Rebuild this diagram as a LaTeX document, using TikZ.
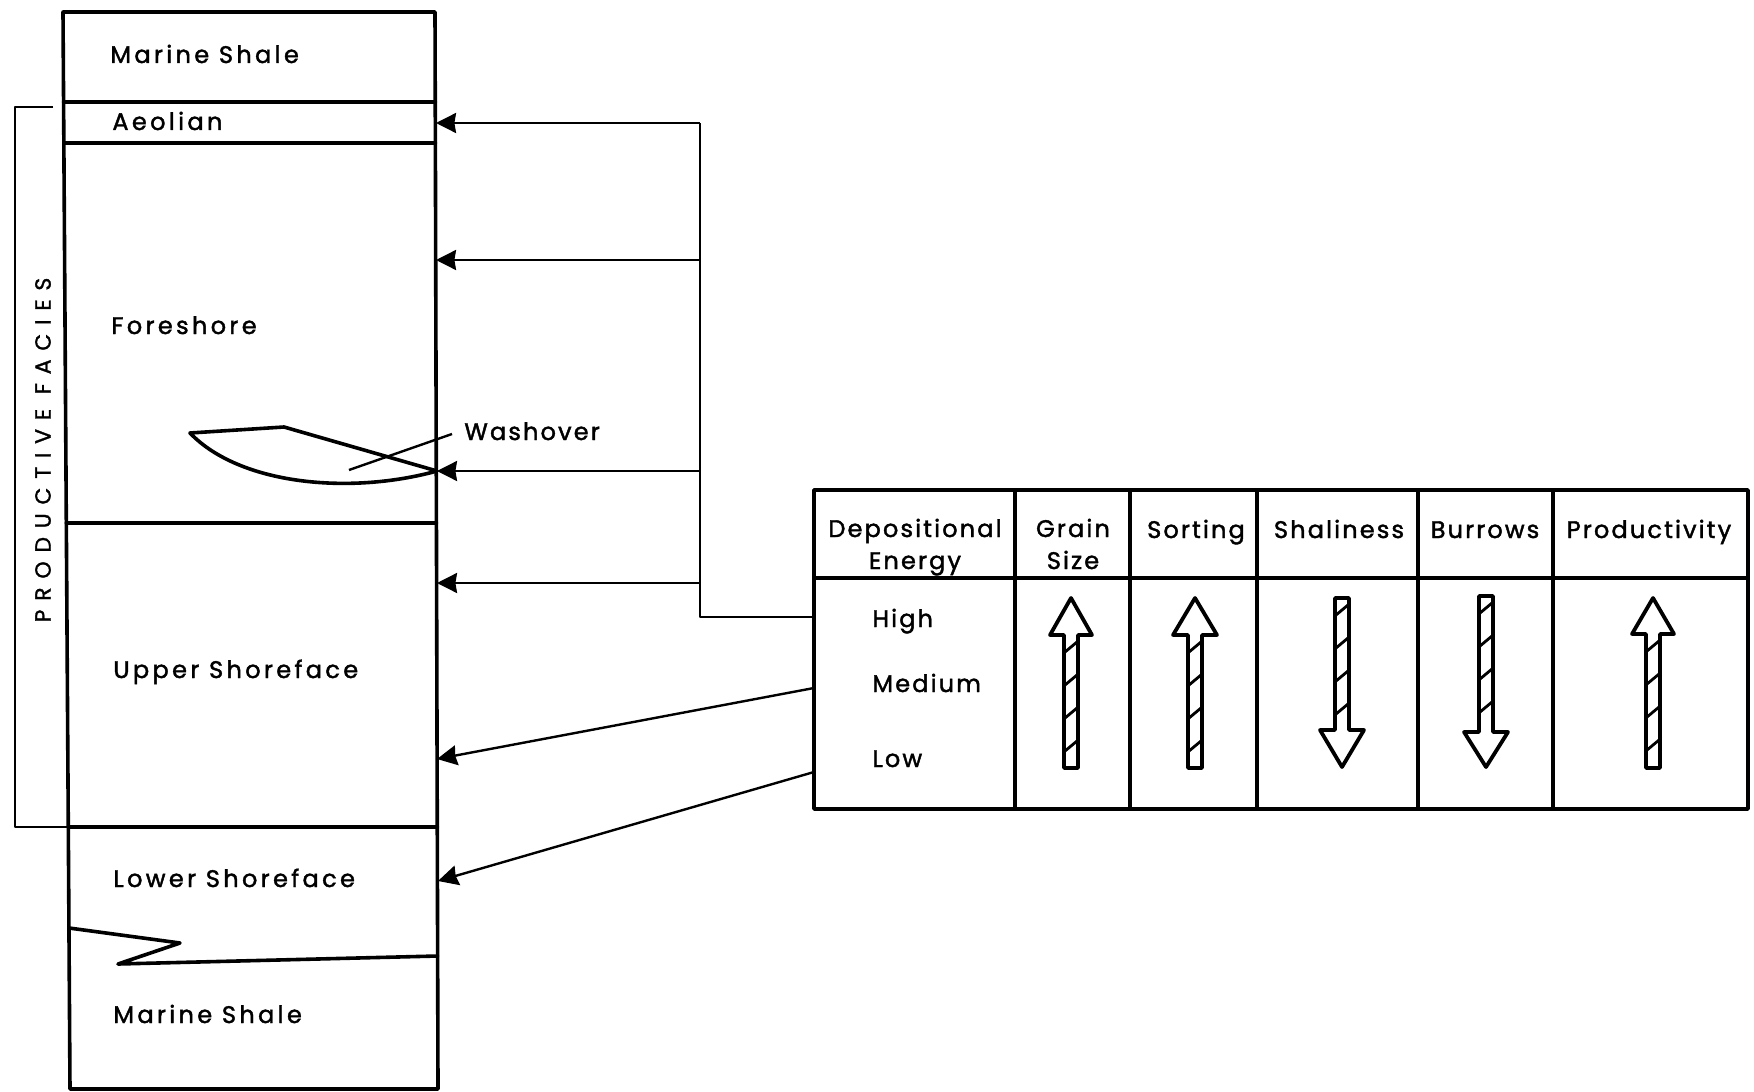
\documentclass[tikz,border=0pt]{standalone}
\usepackage{fontspec}
\setmainfont{Poppins}[LetterSpace=14, FakeBold=1.7]
\newfontfamily\tabfont{Poppins}[LetterSpace=9, FakeBold=1.7]
\newfontfamily\pffont{Poppins}[LetterSpace=40, FakeBold=1.3]
\usetikzlibrary{arrows.meta}
\tikzset{
  strat/.style={line width=1.8pt, line cap=round, line join=round},
  conn/.style={line width=1.2pt, line join=round},
  arr/.style={conn, -{Stealth[length=10pt,width=10pt,inset=0.8pt]}},
  lbl/.style={inner sep=0pt, font=\fontsize{12}{16}\selectfont, anchor=base west},
  tlbl/.style={inner sep=0pt, font=\tabfont\fontsize{12}{16}\selectfont, anchor=base west},
  hdr/.style={inner sep=0pt, font=\tabfont\fontsize{12}{16}\selectfont, anchor=base, align=center},
  hatchout/.style={line width=1.9pt, line join=round, line cap=round},
  stripe/.style={line width=1.4pt},
}
\newcommand\hatcharrow[5]{% cx, y of shaft end, y of head base, y of tip, head half width
  \begin{scope}
    \clip (#1-7,#2) rectangle (#1+7,#3);
    \foreach \k in {0,...,4}{
      \draw[stripe] (#1-12,{min(#2,#3)+12+\k*33+10}) -- (#1+12,{min(#2,#3)+12+\k*33-10});
    }
  \end{scope}
  \draw[hatchout] (#1-7,#2) -- (#1-7,#3) -- (#1-#5,#3) -- (#1,#4) -- (#1+#5,#3) -- (#1+7,#3) -- (#1+7,#2) -- cycle;
}
\begin{document}
\begin{tikzpicture}[x=0.5pt,y=-0.5pt]
\useasboundingbox (0,0) rectangle (1754,1091);

% ---------- stratigraphic column ----------
\coordinate (cTL) at (63,12);
\coordinate (cTR) at (435,12);
\coordinate (cBL) at (70,1089);
\coordinate (cBR) at (438,1089);
\draw[strat] (cTL) -- (cTR) -- (cBR) -- (cBL) -- cycle;
\draw[strat] (63.6,102) -- (435.3,102);
\draw[strat] (63.9,143) -- (435.4,143);
\draw[strat] (66.3,523) -- (436.4,523);
\draw[strat] (68.3,827) -- (437.3,827);
\draw[strat] (69,928) -- (180,943) -- (118,964) -- (437.6,956);

% washover lens
\coordinate (wL) at (190,433);
\coordinate (wT) at (284,427);
\coordinate (wR) at (437,471);
\draw[strat] (wL) -- (wT) -- (wR);
\draw[strat] (wL) .. controls (240,485) and (350,495) .. (wR);
\coordinate (wlead1) at (349,470);
\coordinate (wlead2) at (452,434);
\draw[conn] (wlead1) -- (wlead2);

% labels in the column
\node[lbl] (ms1) at (110,63) {Marine Shale};
\node[lbl] (aeo) at (112,130) {Aeolian};
\node[lbl] (fsh) at (111,334) {Foreshore};
\node[tlbl] (wsh) at (464,440) {Washover};
\node[lbl] (ush) at (113,678) {Upper Shoreface};
\node[lbl] (lsh) at (113,887) {Lower Shoreface};
\node[lbl] (ms2) at (113,1023) {Marine Shale};

% productive facies bracket
\coordinate (bA) at (53,107);
\coordinate (bB) at (15,107);
\coordinate (bC) at (15,827);
\coordinate (bD) at (67,827);
\draw[conn] (bA) -- (bB) -- (bC) -- (bD);
\node[inner sep=0pt, rotate=90, font=\pffont\fontsize{11}{13}\selectfont] (pf) at (43,450) {PRODUCTIVE FACIES};

% ---------- table ----------
\coordinate (tTL) at (814,490);
\coordinate (tBR) at (1748,809);
\draw[strat] (tTL) rectangle (tBR);
\draw[strat] (814,578) -- (1748,578);
\foreach \xx in {1015,1130,1257,1418,1553}{
  \draw[strat] (\xx,490) -- (\xx,809);
}
\node[hdr] (dep) at (915,569) {Depositional\\Energy};
\node[hdr] (grs) at (1073,569) {Grain\\Size};
\node[hdr] (sor) at (1196,538) {Sorting};
\node[hdr] (sha) at (1339,538) {Shaliness};
\node[hdr] (bur) at (1485,538) {Burrows};
\node[hdr] (pro) at (1649,538) {Productivity};

\node[tlbl] (hi) at (872,627) {High};
\node[tlbl] (me) at (872,692) {Medium};
\node[tlbl] (lo) at (872,767) {Low};

% hatched trend arrows
\hatcharrow{1071}{768}{635}{598}{21}
\hatcharrow{1195}{768}{635}{598}{22}
\hatcharrow{1342}{598}{730}{767}{22}
\hatcharrow{1486}{596}{732}{767}{22}
\hatcharrow{1653}{768}{634}{598}{21}

% ---------- connectors ----------
\coordinate (tH) at (814,617);
\coordinate (tM) at (814,688);
\coordinate (tL) at (814,772);
\coordinate (jH) at (700,617);
\coordinate (jA) at (700,123);
\coordinate (jF) at (700,260);
\coordinate (jW) at (700,471);
\coordinate (jU) at (700,583);
\coordinate (eA) at (436,123);
\coordinate (eF) at (436,260);
\coordinate (eW) at (437,471);
\coordinate (eU) at (437,583);
\coordinate (eM) at (437,759);
\coordinate (eL) at (438,881);

\draw[conn] (tH) -- (jH) -- (jA);
\draw[arr] (jA) -- (eA);
\draw[arr] (jF) -- (eF);
\draw[arr] (jW) -- (eW);
\draw[arr] (jU) -- (eU);
\draw[arr] (tM) -- (eM);
\draw[arr] (tL) -- (eL);
\end{tikzpicture}
\end{document}
